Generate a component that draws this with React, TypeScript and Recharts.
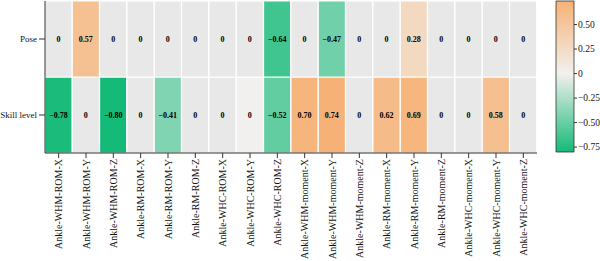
import { BarChart, Bar, XAxis, YAxis, Cell, LabelList } from 'recharts';

// nombres de columnas (variables del tobillo)
const columnas = [
  'Ankle-WHM-ROM-X', 'Ankle-WHM-ROM-Y', 'Ankle-WHM-ROM-Z',
  'Ankle-RM-ROM-X', 'Ankle-RM-ROM-Y', 'Ankle-RM-ROM-Z',
  'Ankle-WHC-ROM-X', 'Ankle-WHC-ROM-Y', 'Ankle-WHC-ROM-Z',
  'Ankle-WHM-moment-X', 'Ankle-WHM-moment-Y', 'Ankle-WHM-moment-Z',
  'Ankle-RM-moment-X', 'Ankle-RM-moment-Y', 'Ankle-RM-moment-Z',
  'Ankle-WHC-moment-X', 'Ankle-WHC-moment-Y', 'Ankle-WHC-moment-Z',
];
const filas = ['Skill level', 'Pose'];

// null = no significativo (celda gris, se muestra 0)
const valoresPose = [null, 0.57, null, null, null, null, null, null, -0.64, null, -0.47, null, null, 0.28, null, null, null, null];
const valoresSkill = [-0.78, null, -0.8, null, -0.41, null, null, 0, -0.52, 0.7, 0.74, null, 0.62, 0.69, null, null, 0.58, null];

const escalaMin = -0.8;
const escalaMax = 0.74;
const ticksEscala = [-0.75, -0.5, -0.25, 0, 0.25, 0.5];

const VERDE = [20, 186, 120];
const BLANCO = [242, 240, 238];
const NARANJA = [246, 178, 118];
const GRIS = '#e8e8e8';

const mezcla = (a: number[], b: number[], t: number) =>
  `rgb(${a.map((v, i) => Math.round(v + (b[i] - v) * t)).join(',')})`;

const colorDe = (v: number | null) => {
  if (v === null) return GRIS;
  if (v < 0) return mezcla(BLANCO, VERDE, v / escalaMin);
  return mezcla(BLANCO, NARANJA, v / escalaMax);
};

const formato = (v: number | null) => {
  if (v === null || v === 0) return '0';
  const s = Math.abs(v).toFixed(2);
  return v < 0 ? `\u2212${s}` : s;
};

const datos = columnas.map((nombre, i) => ({
  nombre,
  skill: valoresSkill[i],
  pose: valoresPose[i],
  celdaSkill: 1,
  celdaPose: 1,
}));

const datosBarra = [{ nombre: 'cb', rango: [escalaMin, escalaMax] }];

const TickColumna = ({ x, y, payload }: any) => (
  <text x={x} y={y - 1} transform={`rotate(-90 ${x} ${y - 1})`} textAnchor="end" dominantBaseline="central" fontSize={10} fill="#111">
    {payload.value}
  </text>
);

const TickFila = ({ x, y, payload }: any) => (
  <text x={x} y={y} textAnchor="end" dominantBaseline="central" fontSize={9} fill="#111">
    {filas[Math.floor(payload.value)]}
  </text>
);

const etiqueta = (clave: 'skill' | 'pose') => (props: any) => {
  const { x, y, width, height, index } = props;
  return (
    <text x={x + width / 2} y={y + height / 2} textAnchor="middle" dominantBaseline="central" fontSize={8} fontWeight={700} fill="#000">
      {formato(datos[index][clave])}
    </text>
  );
};

export default function App() {
  return (
    <div style={{ position: 'absolute', left: 0, top: 0, width: 600, height: 261, background: '#fff', fontFamily: '"Liberation Serif", serif' }}>
      <div style={{ position: 'absolute', left: 0, top: 0 }}>
        <BarChart width={545} height={261} data={datos} margin={{ top: 1, right: 8, bottom: 0, left: 0 }} barCategoryGap={0}>
          <XAxis
            dataKey="nombre"
            interval={0}
            height={108}
            tick={<TickColumna />}
            tickSize={5}
            stroke="#333"
          />
          <XAxis xAxisId="arriba" orientation="top" dataKey="nombre" height={0} tick={false} stroke="#333" />
          <YAxis
            type="number"
            domain={[0, 2]}
            ticks={[0.5, 1.5]}
            width={45}
            tickSize={6}
            tick={<TickFila />}
            stroke="#333"
          />
          <YAxis yAxisId="derecha" orientation="right" type="number" domain={[0, 2]} width={0} tick={false} stroke="#333" />
          <Bar dataKey="celdaSkill" stackId="h" stroke="#fff" strokeWidth={1} isAnimationActive={false}>
            {datos.map((d, i) => (
              <Cell key={i} fill={colorDe(d.skill)} />
            ))}
            <LabelList dataKey="celdaSkill" content={etiqueta('skill')} />
          </Bar>
          <Bar dataKey="celdaPose" stackId="h" stroke="#fff" strokeWidth={1} isAnimationActive={false}>
            {datos.map((d, i) => (
              <Cell key={i} fill={colorDe(d.pose)} />
            ))}
            <LabelList dataKey="celdaPose" content={etiqueta('pose')} />
          </Bar>
        </BarChart>
      </div>
      <div style={{ position: 'absolute', left: 540, top: 0 }}>
        <BarChart width={60} height={261} data={datosBarra} margin={{ top: 1, right: 0, bottom: 109, left: 16 }} barCategoryGap={0}>
          <defs>
            <linearGradient id="gradEscala" x1="0" y1="0" x2="0" y2="1">
              <stop offset="0" stopColor={mezcla(BLANCO, NARANJA, 1)} />
              <stop offset={escalaMax / (escalaMax - escalaMin)} stopColor={mezcla(BLANCO, NARANJA, 0)} />
              <stop offset="1" stopColor={mezcla(BLANCO, VERDE, 1)} />
            </linearGradient>
          </defs>
          <XAxis dataKey="nombre" hide />
          <YAxis
            orientation="right"
            type="number"
            domain={[escalaMin, escalaMax]}
            ticks={ticksEscala}
            width={26}
            tickSize={3}
            tickMargin={1}
            axisLine={false}
            tickFormatter={(v: number) => formato(v)}
            tick={{ fontSize: 9.5, fill: '#111' }}
            stroke="#333"
          />
          <YAxis
            yAxisId="izq"
            orientation="left"
            type="number"
            domain={[escalaMin, escalaMax]}
            ticks={ticksEscala}
            width={0}
            mirror
            tickSize={3}
            axisLine={false}
            tickFormatter={() => ''}
            stroke="#333"
          />
          <Bar dataKey="rango" fill="url(#gradEscala)" stroke="#333" strokeWidth={0.8} isAnimationActive={false} />
        </BarChart>
      </div>
    </div>
  );
}
